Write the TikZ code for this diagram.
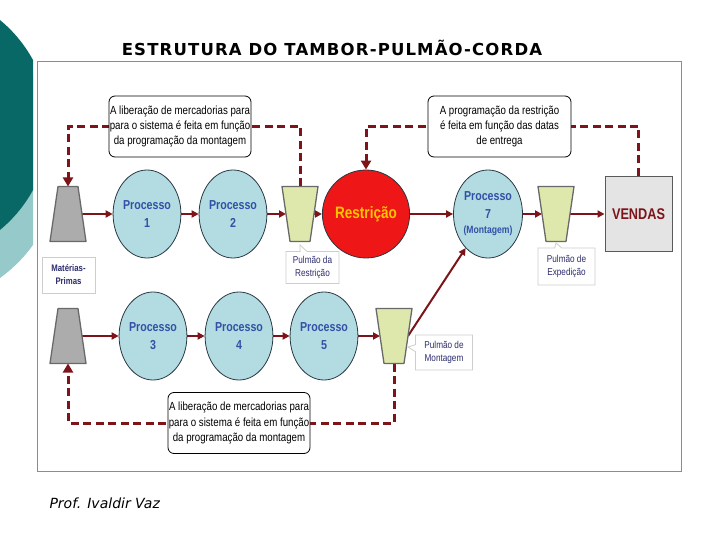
\documentclass[tikz,border=0pt]{standalone}
\usepackage{fontspec}
\setmainfont{Liberation Sans}
\newfontfamily\nar[FakeStretch=0.82]{Liberation Sans}
\newfontfamily\verd{DejaVu Sans}
\newfontfamily\verdwide[LetterSpace=7]{DejaVu Sans}
\usetikzlibrary{arrows.meta,shapes.geometric,shapes.callouts}
\pgfdeclarelayer{bg}
\pgfsetlayers{bg,main}
\definecolor{tealD}{RGB}{8,104,102}
\definecolor{tealL}{RGB}{150,202,202}
\definecolor{dred}{RGB}{125,20,25}
\definecolor{pfill}{RGB}{178,220,226}
\definecolor{pborder}{RGB}{40,55,65}
\definecolor{pblue}{RGB}{50,80,165}
\definecolor{navy}{RGB}{45,45,110}
\definecolor{tgray}{RGB}{172,172,172}
\definecolor{tgborder}{RGB}{105,105,105}
\definecolor{tgreen}{RGB}{222,232,172}
\definecolor{rred}{RGB}{238,22,22}
\definecolor{rtext}{RGB}{255,196,0}
\definecolor{vfill}{RGB}{228,228,228}
\definecolor{vborder}{RGB}{90,90,90}
\definecolor{framegray}{RGB}{140,140,140}
\definecolor{tagborder}{RGB}{205,205,205}
\newcommand\feedshape[3]{% x, y, fill colour ; wide at bottom
  \filldraw[fill=#3, draw=tgborder, line width=1.3pt, line join=round]
    (#1-10,#2-27.5) -- (#1+10,#2-27.5) -- (#1+18,#2+27.5) -- (#1-18,#2+27.5) -- cycle;}
\newcommand\bufshape[3]{% x, y, fill colour ; wide at top
  \filldraw[fill=#3, draw=tgborder, line width=1.3pt, line join=round]
    (#1-18,#2-27.5) -- (#1+18,#2-27.5) -- (#1+10,#2+27.5) -- (#1-10,#2+27.5) -- cycle;}
\begin{document}
\begin{tikzpicture}[x=1pt,y=-1pt,
  proc/.style={ellipse, draw=pborder, fill=pfill, line width=0.8pt, minimum width=65pt, minimum height=88pt, inner sep=0pt, align=center, font=\nar\bfseries\fontsize{13}{18}\selectfont, text=pblue},
  anchorbox/.style={rectangle, minimum width=28pt, minimum height=55pt, inner sep=0pt, outer sep=0pt},
  note/.style={draw=black, fill=white, rounded corners=6pt, line width=0.8pt, minimum width=142pt, minimum height=61pt, inner sep=0pt, align=center, font=\nar\fontsize{11.8}{15.2}\selectfont},
  tag/.style={rectangle callout, draw=tagborder, fill=white, line width=0.8pt, inner sep=0pt, align=center, font=\nar\fontsize{10}{13}\selectfont, text=navy, callout pointer width=7pt},
  arr/.style={draw=dred, line width=2pt, -{Triangle[length=7pt,width=7pt]}},
  dsh/.style={draw=dred, line width=3pt, dash pattern=on 8pt off 4.5pt, -{Triangle[length=9pt,width=10pt]}}
]
\useasboundingbox (0,0) rectangle (720,540);
% background decoration
\begin{scope}
  \clip (0,0) rectangle (33,540);
  \fill[tealL] (-85,160) circle (145.4pt);
  \fill[tealD] (-86.5,125) circle (136pt);
\end{scope}
% title and frame
\node[font=\verdwide\bfseries\fontsize{16.5}{18}\selectfont] (title) at (332,48) {ESTRUTURA DO TAMBOR-PULMÃO-CORDA};
\draw[framegray, line width=1pt] (37,62) rectangle (681,471);
\node[font=\verd\itshape\fontsize{14}{16}\selectfont, anchor=west] (foot) at (46,503) {Prof. Ivaldir Vaz};
% trapezoid shapes
\feedshape{68}{214}{tgray}
\feedshape{68}{336}{tgray}
\bufshape{300}{214}{tgreen}
\bufshape{556}{214}{tgreen}
\bufshape{394}{336}{tgreen}
\node[anchorbox] (gray1) at (68,214) {};
\node[anchorbox] (gray2) at (68,336) {};
\node[anchorbox] (bufR) at (300,214) {};
\node[anchorbox] (bufE) at (556,214) {};
\node[anchorbox] (bufM) at (394,336) {};
% row 1
\node[proc] (p1) at (147,214) {Processo\\1};
\node[proc] (p2) at (233,214) {Processo\\2};
\node[ellipse, draw=pborder, fill=rred, line width=0.8pt, minimum width=65pt, minimum height=88pt, inner sep=0pt, font=\nar\bfseries\fontsize{16.5}{18}\selectfont, text=rtext] (restr) at (366,214) {Restrição};
\node[proc] (p7) at (488,214) {Processo\\7\\[-3pt]{\fontsize{10.5}{13}\selectfont (Montagem)}};
\node[draw=vborder, fill=vfill, line width=1pt, minimum width=67pt, minimum height=75pt, inner sep=0pt, font=\nar\bfseries\fontsize{15.5}{18}\selectfont, text=dred] (vendas) at (638.5,214) {VENDAS};
% row 2
\node[proc] (p3) at (153,336) {Processo\\3};
\node[proc] (p4) at (239,336) {Processo\\4};
\node[proc] (p5) at (324,336) {Processo\\5};
% notes
\node[note] (lib1) at (180,126.5) {A liberação de mercadorias para\\para o sistema é feita em função\\da programação da montagem};
\node[note, minimum width=143pt] (prog) at (499.5,126.5) {A programação da restrição\\é feita em função das datas\\de entrega};
\node[note] (lib2) at (239,423) {A liberação de mercadorias para\\para o sistema é feita em função\\da programação da montagem};
% tags
\node[draw=tagborder, fill=white, line width=0.8pt, minimum width=53pt, minimum height=36pt, inner sep=0pt, align=center, font=\nar\bfseries\fontsize{9.5}{13}\selectfont, text=navy] (mp) at (68.5,275) {Matérias-\\Primas};
\node[tag, minimum width=53pt, minimum height=32pt, callout absolute pointer={(300,245)}] (tagR) at (312.5,267.5) {Pulmão da\\Restrição};
\node[tag, minimum width=57pt, minimum height=37pt, callout absolute pointer={(556,243)}] (tagE) at (566.5,266.5) {Pulmão de\\Expedição};
\node[tag, minimum width=57pt, minimum height=35pt, callout absolute pointer={(408,347)}] (tagM) at (444,352.5) {Pulmão de\\Montagem};
% connectors
\begin{pgfonlayer}{bg}
\draw[arr] (gray1) -- (p1);
\draw[arr] (p1) -- (p2);
\draw[arr] (p2) -- (bufR);
\draw[arr] (bufR) -- (restr);
\draw[arr] (restr) -- (p7);
\draw[arr] (p7) -- (bufE);
\draw[arr] (bufE) -- (vendas);
\draw[arr] (gray2) -- (p3);
\draw[arr] (p3) -- (p4);
\draw[arr] (p4) -- (p5);
\draw[arr] (p5) -- (bufM);
\draw[arr] (bufM.east) -- (p7);
\draw[dsh] (bufR) |- (lib1.center) -| (gray1);
\draw[dsh] (vendas) |- (prog.center) -| (restr);
\draw[dsh] (bufM) |- (lib2.center) -| (gray2);
\end{pgfonlayer}
\end{tikzpicture}
\end{document}
